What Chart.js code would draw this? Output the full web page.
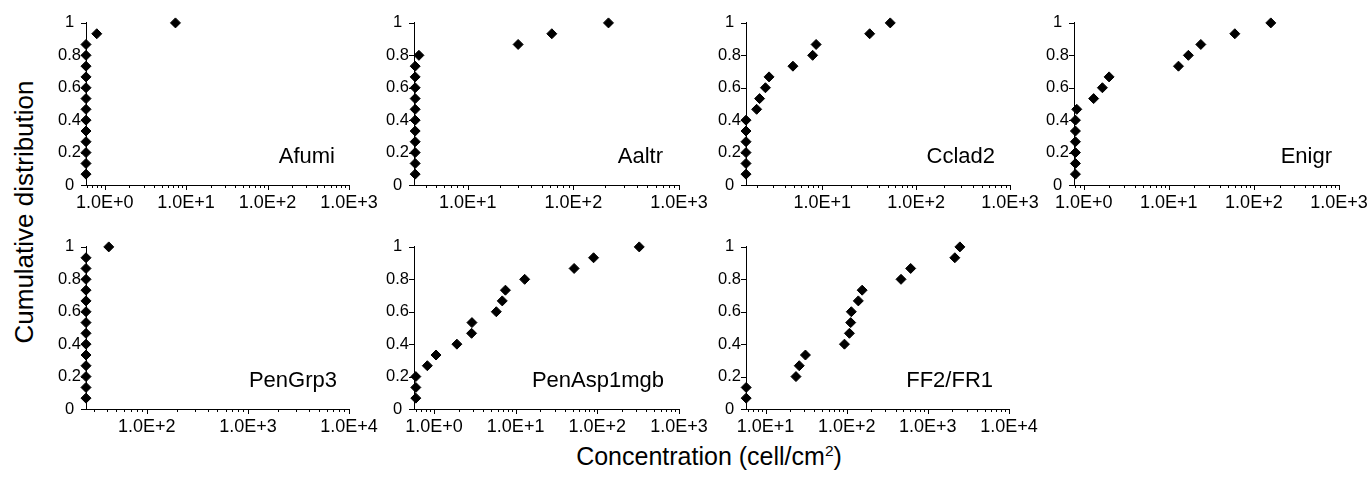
<!DOCTYPE html>
<html><head><meta charset="utf-8">
<script src="https://cdn.jsdelivr.net/npm/chart.js@4/dist/chart.umd.min.js"></script>
<style>
html,body{margin:0;padding:0;background:#fff;}
body{width:1370px;height:477px;position:relative;overflow:hidden;font-family:"Liberation Sans",Arial,sans-serif;color:#000;}
canvas.pane{position:absolute;}
#ytitle{position:absolute;left:24px;top:212px;transform:translate(-50%,-50%) rotate(-90deg);font-size:26px;white-space:nowrap;}
#xtitle{position:absolute;left:709px;top:456px;transform:translate(-50%,-50%);font-size:25px;white-space:nowrap;}
#xtitle sup{font-size:0.62em;vertical-align:0.55em;line-height:0;}
</style></head><body>
<div id="ytitle">Cumulative distribution</div>
<div id="xtitle">Concentration (cell/cm<sup>2</sup>)</div>
<script>
// ---------- data ----------
const cumulative = [0.067, 0.133, 0.2, 0.267, 0.333, 0.4, 0.467, 0.533, 0.6, 0.667, 0.733, 0.8, 0.867, 0.933, 1.0];
const panelNames = ["Afumi", "Aaltr", "Cclad2", "Enigr", "PenGrp3", "PenAsp1mgb", "FF2/FR1"];
const afumi      = [0.59, 0.59, 0.59, 0.59, 0.59, 0.59, 0.59, 0.59, 0.59, 0.59, 0.59, 0.59, 0.59, 0.80, 7.4];
const aaltr      = [3.18, 3.18, 3.18, 3.18, 3.18, 3.18, 3.18, 3.18, 3.18, 3.18, 3.18, 3.45, 30, 62.5, 215];
const cclad2     = [1.54, 1.54, 1.54, 1.54, 1.54, 1.54, 2.0, 2.15, 2.48, 2.71, 4.87, 7.9, 8.6, 32, 53];
const enigr      = [0.80, 0.80, 0.80, 0.80, 0.80, 0.80, 0.83, 1.31, 1.66, 1.99, 13, 17, 23.8, 59.7, 158];
const penGrp3    = [25, 25, 25, 25, 25, 25, 25, 25, 25, 25, 25, 25, 25, 25, 42];
const penAsp1mgb = [0.60, 0.60, 0.60, 0.83, 1.06, 1.91, 2.89, 2.92, 5.8, 6.86, 7.5, 12.9, 52, 90, 326];
const ff2fr1     = [5.77, 5.77, 23.7, 26, 31, 93.8, 108, 112, 114, 139, 155, 467, 614, 2150, 2480];
const seriesX = [afumi, aaltr, cclad2, enigr, penGrp3, penAsp1mgb, ff2fr1];

const xMin = [0.59, 3.1, 1.54, 0.77, 25, 0.57, 5.74];
const xMax = [1000, 1000, 1000, 1000, 10000, 1000, 10000];
const decadeTicks = [
  [1, 10, 100, 1000], [10, 100, 1000], [10, 100, 1000], [1, 10, 100, 1000],
  [100, 1000, 10000], [1, 10, 100, 1000], [10, 100, 1000, 10000]
];
const decadeLabels = [
  ["1.0E+0", "1.0E+1", "1.0E+2", "1.0E+3"], ["1.0E+1", "1.0E+2", "1.0E+3"], ["1.0E+1", "1.0E+2", "1.0E+3"],
  ["1.0E+0", "1.0E+1", "1.0E+2", "1.0E+3"], ["1.0E+2", "1.0E+3", "1.0E+4"], ["1.0E+0", "1.0E+1", "1.0E+2", "1.0E+3"],
  ["1.0E+1", "1.0E+2", "1.0E+3", "1.0E+4"]
];
const minorMultipliers = [2, 3, 4, 5, 6, 7, 8, 9];
const yTicks = [0, 0.2, 0.4, 0.6, 0.8, 1];
const yTickLabels = ["0", "0.2", "0.4", "0.6", "0.8", "1"];

// ---------- layout (positions / styles) ----------
const frames = [
  {left: 86,  top: 20,  width: 263, nameOffset: 14},
  {left: 414, top: 20,  width: 265, nameOffset: 16},
  {left: 746, top: 20,  width: 264, nameOffset: 15},
  {left: 1074, top: 20, width: 265, nameOffset: 7},
  {left: 86,  top: 244, width: 263, nameOffset: 12},
  {left: 414, top: 244, width: 265, nameOffset: 15},
  {left: 746, top: 244, width: 263, nameOffset: 16}
];
const PLOT_H = 165, Y_W = 45, X_H = 35, PAD_T = 12, PAD_R = 36;
const FONT = '"Liberation Sans", Arial, sans-serif';

const decor = {
  id: 'decor',
  afterDraw(chart, args, opts) {
    const {ctx, chartArea} = chart;
    const xs = chart.scales.x, ys = chart.scales.y;
    ctx.save();
    ctx.strokeStyle = '#000';
    ctx.lineWidth = 1;
    ctx.beginPath();
    xs.ticks.forEach(t => {
      const px = Math.round(xs.getPixelForValue(t.value)) + 0.5;
      const len = t.major ? 5 : 3;
      ctx.moveTo(px, chartArea.bottom);
      ctx.lineTo(px, chartArea.bottom + len);
    });
    ys.ticks.forEach(t => {
      const py = Math.round(ys.getPixelForValue(t.value)) + 0.5;
      ctx.moveTo(chartArea.left - 5, py);
      ctx.lineTo(chartArea.left, py);
    });
    ctx.stroke();
    ctx.font = '22px ' + FONT;
    ctx.fillStyle = '#000';
    ctx.textAlign = 'right';
    ctx.textBaseline = 'alphabetic';
    ctx.fillText(opts.name, chartArea.right - opts.offset, chartArea.bottom - 22);
    ctx.restore();
  }
};

frames.forEach((f, i) => {
  const c = document.createElement('canvas');
  c.className = 'pane';
  const W = Y_W + f.width + PAD_R, H = PAD_T + PLOT_H + X_H;
  c.width = W; c.height = H;
  c.style.width = W + 'px'; c.style.height = H + 'px';
  c.style.left = (f.left - Y_W) + 'px';
  c.style.top = (f.top - PAD_T) + 'px';
  document.body.appendChild(c);

  const pts = seriesX[i].map((x, k) => ({x: x, y: cumulative[k]}));
  const decs = decadeTicks[i], labs = decadeLabels[i];

  new Chart(c, {
    type: 'scatter',
    data: {datasets: [{
      data: pts,
      pointStyle: 'rectRot',
      pointRadius: 5,
      borderWidth: 1,
      backgroundColor: '#000',
      borderColor: '#000',
      clip: false
    }]},
    options: {
      responsive: false,
      animation: false,
      devicePixelRatio: 1,
      events: [],
      layout: {padding: {left: 0, right: PAD_R, top: PAD_T, bottom: 0}},
      plugins: {legend: {display: false}, tooltip: {enabled: false}, decor: {name: panelNames[i], offset: f.nameOffset}},
      scales: {
        x: {
          type: 'logarithmic',
          position: 'bottom',
          min: xMin[i], max: xMax[i],
          grid: {display: false, drawTicks: false, tickLength: 0},
          border: {display: true, color: '#000', width: 1},
          afterBuildTicks: (s) => {
            const out = [];
            const lo = Math.floor(Math.log10(xMin[i])), hi = Math.ceil(Math.log10(xMax[i]));
            for (let e = lo; e <= hi; e++) {
              const base = Math.pow(10, e);
              if (base >= xMin[i] * 0.999 && base <= xMax[i] * 1.001) out.push({value: base, major: true});
              minorMultipliers.forEach(m => {
                const v = m * base;
                if (v >= xMin[i] && v <= xMax[i]) out.push({value: v, major: false});
              });
            }
            out.sort((a, b) => a.value - b.value);
            s.ticks = out;
          },
          afterFit: (s) => { s.height = X_H; },
          ticks: {
            autoSkip: false, maxRotation: 0, minRotation: 0, padding: 7,
            color: '#000', font: {family: FONT, size: 18},
            callback: (v) => {
              const j = decs.findIndex(d => Math.abs(d - v) / d < 1e-6);
              return j >= 0 ? labs[j] : '';
            }
          }
        },
        y: {
          type: 'linear',
          min: 0, max: 1,
          grid: {display: false, drawTicks: false, tickLength: 0},
          border: {display: true, color: '#000', width: 1},
          afterBuildTicks: (s) => { s.ticks = yTicks.map(v => ({value: v})); },
          afterFit: (s) => { s.width = Y_W; },
          ticks: {
            padding: 5, crossAlign: 'center',
            color: '#000', font: {family: FONT, size: 16.5},
            callback: (v, idx) => yTickLabels[idx]
          }
        }
      }
    },
    plugins: [decor]
  });
});
</script>
</body></html>
